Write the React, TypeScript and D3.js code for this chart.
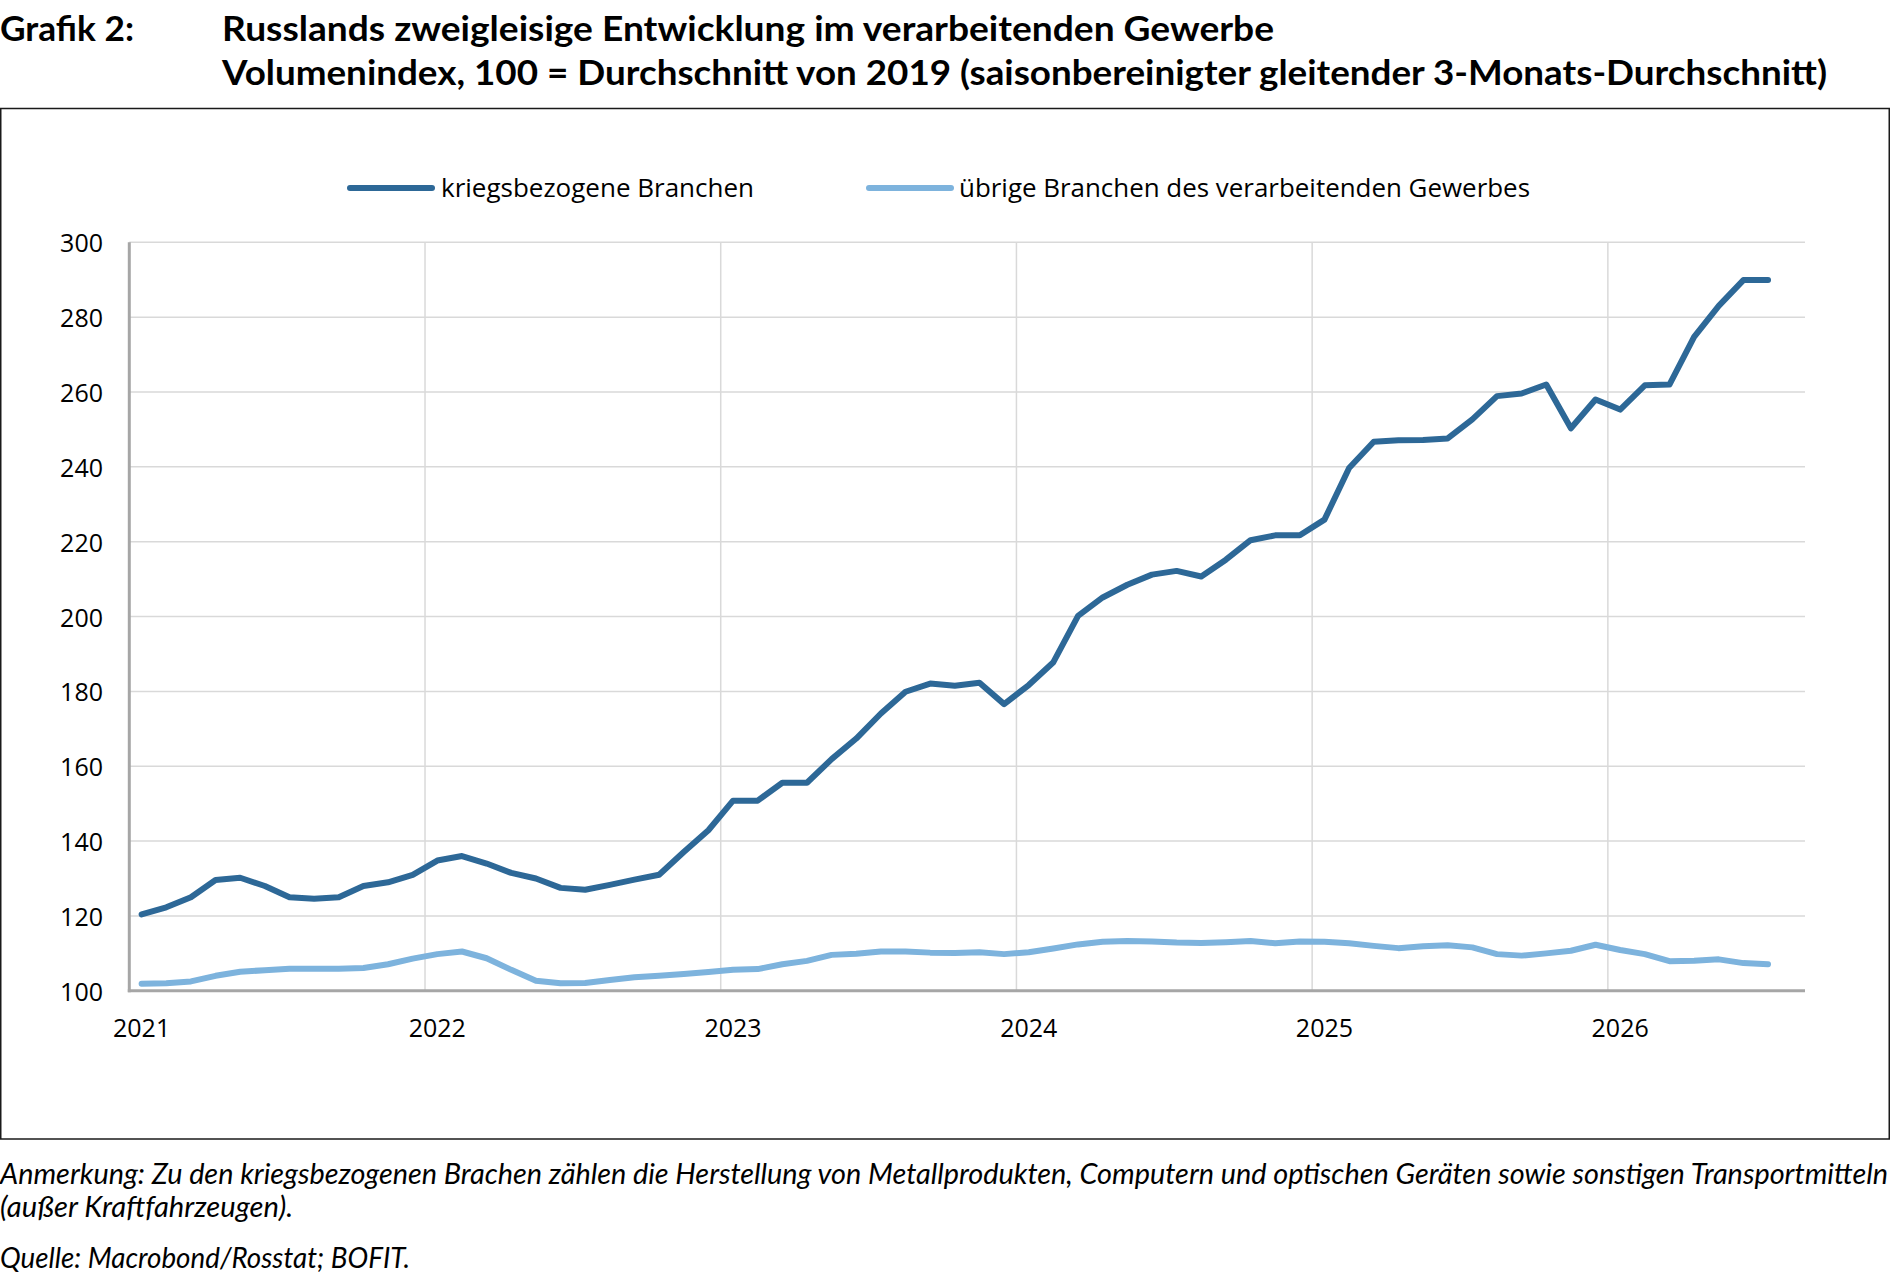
import * as d3 from 'd3';

// monthly observations, Jan 2021 .. Jul 2026; the axis runs to Aug 2026
const months = d3.timeMonth.range(new Date(2021, 0, 1), new Date(2026, 8, 1));
const yearLabels = ['2021', '2022', '2023', '2024', '2025', '2026'];
const yTicks = [100, 120, 140, 160, 180, 200, 220, 240, 260, 280, 300];

const seriesNames = ['kriegsbezogene Branchen', 'übrige Branchen des verarbeitenden Gewerbes'];
const seriesColors = ['#2d6897', '#7db3dd'];

const warValues = [
    120.4, 122.3, 125.0, 129.6, 130.2, 128.0, 125.0, 124.6, 125.0, 128.0, 129.0, 131.0,
    134.8, 136.0, 134.0, 131.5, 130.0, 127.5, 127.0, 128.3, 129.7, 131.0, 137.1, 142.9,
    150.8, 150.8, 155.6, 155.6, 161.9, 167.4, 174.1, 179.9, 182.1, 181.5, 182.3, 176.6,
    181.7, 187.8, 200.2, 205.1, 208.5, 211.2, 212.2, 210.7, 215.2, 220.4, 221.7, 221.7,
    225.9, 239.7, 246.7, 247.1, 247.2, 247.6, 252.7, 258.9, 259.6, 262.0, 250.3, 258.0,
    255.3, 261.8, 262.0, 274.7, 283.0, 289.9, 289.9,
];

const otherValues = [
    101.9, 102.0, 102.5, 104.0, 105.1, 105.5, 105.9, 105.9, 105.9, 106.1, 107.1, 108.6,
    109.8, 110.5, 108.7, 105.6, 102.7, 102.0, 102.1, 102.9, 103.6, 104.0, 104.5, 105.0,
    105.6, 105.8, 107.1, 108.0, 109.6, 109.9, 110.5, 110.5, 110.2, 110.1, 110.3, 109.8,
    110.3, 111.3, 112.4, 113.1, 113.3, 113.2, 112.9, 112.8, 113.0, 113.3, 112.7, 113.2,
    113.1, 112.7, 112.0, 111.4, 111.9, 112.2, 111.6, 109.8, 109.4, 110.0, 110.7, 112.3,
    110.9, 109.8, 107.9, 108.0, 108.4, 107.4, 107.1,
];

const noteLines = [
    'Anmerkung: Zu den kriegsbezogenen Brachen zählen die Herstellung von Metallprodukten, Computern und optischen Geräten sowie sonstigen Transportmitteln',
    '(außer Kraftfahrzeugen).',
];
const source = 'Quelle: Macrobond/Rosstat; BOFIT.';

const W = 1890;
const H = 1280;
const PLOT_L = 129.3;
const PLOT_R = 1805;
const PLOT_T = 242.3;
const PLOT_B = 990.8;

const TITLE_FONT = 'Lato, "Noto Sans", sans-serif';
const AXIS_FONT = '"Open Sans", "Noto Sans", sans-serif';

export default function App() {
    const keys = months.map((m) => d3.timeFormat('%Y-%m')(m));
    const x = d3.scaleBand<string>().domain(keys).range([PLOT_L, PLOT_R]).padding(0);
    const bw = x.bandwidth();
    const xc = (i: number) => (x(keys[i]) ?? 0) + bw / 2;
    const y = d3.scaleLinear().domain([100, 300]).range([PLOT_B, PLOT_T]);

    const line = d3.line<number>()
        .x((_, i) => xc(i))
        .y((v) => y(v));

    const series = [warValues, otherValues];
    const januaryIdx = yearLabels.map((yr) => keys.indexOf(`${yr}-01`));

    return (
        <div style={{ position: 'absolute', left: 0, top: 0, background: '#fff' }}>
            <svg width={W} height={H} style={{ display: 'block' }}>
                <rect width={W} height={H} fill="#fff" />

                {/* title */}
                <g fontFamily={TITLE_FONT} fontWeight={700} fontSize={34} fill="#000">
                    <text x={0} y={41} textLength={134} lengthAdjust="spacingAndGlyphs">Grafik 2:</text>
                    <text x={222} y={41} textLength={1052} lengthAdjust="spacingAndGlyphs">
                        Russlands zweigleisige Entwicklung im verarbeitenden Gewerbe
                    </text>
                    <text x={222} y={85} textLength={1605} lengthAdjust="spacingAndGlyphs">
                        Volumenindex, 100 = Durchschnitt von 2019 (saisonbereinigter gleitender 3-Monats-Durchschnitt)
                    </text>
                </g>

                <rect x={0.75} y={108.5} width={W - 1.5} height={1139 - 108.5} fill="none" stroke="#1a1a1a" strokeWidth={1.5} />

                {/* legend */}
                <g fontFamily={AXIS_FONT} fontSize={26} fill="#000">
                    <line x1={350} x2={432} y1={188} y2={188} stroke={seriesColors[0]} strokeWidth={6} strokeLinecap="round" />
                    <text x={441} y={197} textLength={313} lengthAdjust="spacingAndGlyphs">{seriesNames[0]}</text>
                    <line x1={869} x2={951} y1={188} y2={188} stroke={seriesColors[1]} strokeWidth={6} strokeLinecap="round" />
                    <text x={959} y={197} textLength={571} lengthAdjust="spacingAndGlyphs">{seriesNames[1]}</text>
                </g>

                {/* grid */}
                <g stroke="#d9d9d9" strokeWidth={1.5}>
                    {yTicks.slice(1).map((t) => (
                        <line key={t} x1={PLOT_L} x2={PLOT_R} y1={y(t)} y2={y(t)} />
                    ))}
                    {januaryIdx.slice(1).map((i) => (
                        <line key={i} x1={x(keys[i])} x2={x(keys[i])} y1={PLOT_T} y2={PLOT_B} />
                    ))}
                </g>

                {/* axes */}
                <g stroke="#a6a6a6" strokeWidth={3}>
                    <line x1={PLOT_L} x2={PLOT_L} y1={PLOT_T} y2={PLOT_B + 1.5} />
                    <line x1={PLOT_L - 1.5} x2={PLOT_R} y1={PLOT_B} y2={PLOT_B} />
                </g>

                <g fontFamily={AXIS_FONT} fontSize={25} fill="#000">
                    {yTicks.map((t) => (
                        <text key={t} x={103} y={y(t)} textAnchor="end" dominantBaseline="central">{t}</text>
                    ))}
                    {yearLabels.map((yr, k) => (
                        <text key={yr} x={xc(januaryIdx[k])} y={1037} textAnchor="middle">{yr}</text>
                    ))}
                </g>

                {/* series */}
                {series.map((vals, k) => (
                    <path key={k} d={line(vals) ?? ''} fill="none" stroke={seriesColors[k]}
                        strokeWidth={6} strokeLinejoin="round" strokeLinecap="round" />
                ))}

                {/* notes */}
                <g fontFamily={TITLE_FONT} fontStyle="italic" fontSize={28} fill="#000">
                    <text x={0} y={1184} textLength={1888} lengthAdjust="spacingAndGlyphs">{noteLines[0]}</text>
                    <text x={0} y={1217} textLength={293} lengthAdjust="spacingAndGlyphs">{noteLines[1]}</text>
                    <text x={0} y={1268} textLength={410} lengthAdjust="spacingAndGlyphs">{source}</text>
                </g>
            </svg>
        </div>
    );
}
